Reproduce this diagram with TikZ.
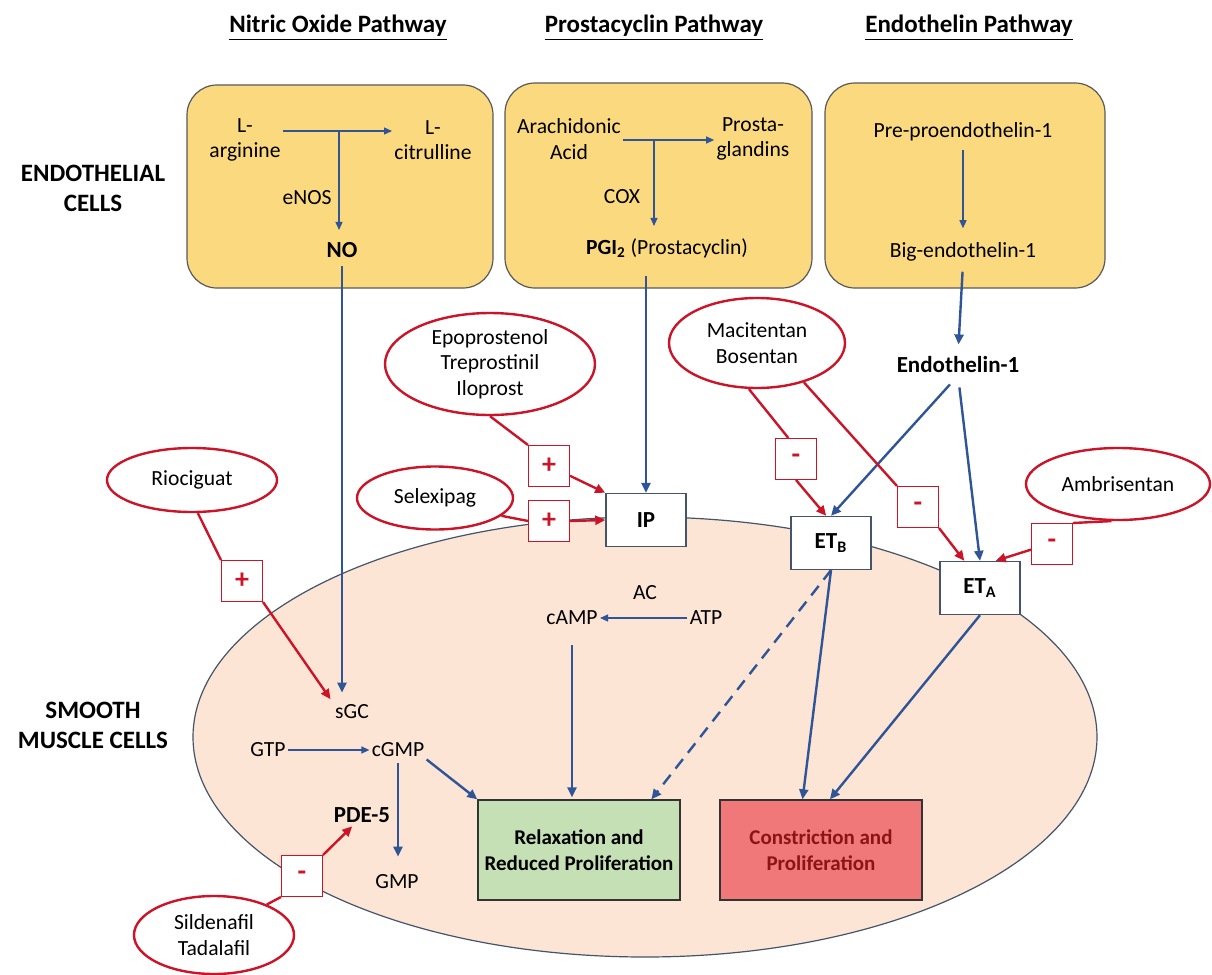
\documentclass[tikz,border=0pt]{standalone}
\usepackage{fontspec}
\setmainfont{Carlito}
\usetikzlibrary{shapes.geometric,arrows.meta}
\definecolor{cellyellow}{RGB}{250,217,127}
\definecolor{muscle}{RGB}{252,229,213}
\definecolor{pathblue}{RGB}{47,85,151}
\definecolor{drugred}{RGB}{204,20,40}
\definecolor{relaxgreen}{RGB}{197,224,180}
\definecolor{constrred}{RGB}{240,120,120}
\definecolor{constrtext}{RGB}{140,20,20}
\definecolor{membrane}{RGB}{68,84,106}
\begin{document}
\begin{tikzpicture}[x=0.5pt,y=-0.5pt,
  every node/.style={font=\fontsize{10.8}{12.8}\selectfont,inner sep=1pt,align=center},
  cellbox/.style={draw=black!65,fill=cellyellow,rounded corners=15pt,line width=0.6pt},
  drug/.style={ellipse,draw=drugred,line width=1.2pt,fill=white,inner sep=0pt},
  sign/.style={draw=drugred,line width=0.5pt,fill=white,minimum size=20.5pt,inner sep=0pt,text=drugred,font=\fontsize{14}{14}\selectfont\bfseries},
  receptor/.style={draw=membrane,fill=white,line width=0.7pt,minimum width=40pt,minimum height=26.5pt,font=\fontsize{11.5}{13}\selectfont\bfseries},
  outcome/.style={draw=black!80,line width=0.7pt,minimum width=101pt,minimum height=50pt,font=\fontsize{10.5}{13}\selectfont\bfseries},
  thinarr/.style={-{Triangle[length=4pt,width=3.5pt]},pathblue,line width=0.6pt},
  thickarr/.style={-{Triangle[length=5pt,width=4.5pt]},pathblue,line width=1.2pt},
  redline/.style={drugred,line width=1.2pt},
  redarr/.style={redline,-{Triangle[length=5pt,width=4.5pt]}},
  heading/.style={font=\fontsize{12.5}{15}\selectfont\bfseries},
  bold/.style={font=\fontsize{11.5}{13}\selectfont\bfseries}]
\fill[white] (0,0) rectangle (1212,975);
\useasboundingbox (0,0) rectangle (1212,975);

\node[heading] (hno) at (338,28) {\underline{Nitric Oxide Pathway}};
\node[heading] (hpc) at (654,28) {\underline{Prostacyclin Pathway}};
\node[heading] (het) at (969,28) {\underline{Endothelin Pathway}};
\node[heading] (lendo) at (93,188) {ENDOTHELIAL\\CELLS};
\node[heading] (lsmc) at (93,725) {SMOOTH\\MUSCLE CELLS};

\draw[cellbox] (187,85) rectangle (493,288);
\draw[cellbox] (505,83) rectangle (812,288);
\draw[cellbox] (825,83) rectangle (1105,288);
\draw[membrane,fill=muscle,line width=0.6pt] (645,737) ellipse [x radius=226pt,y radius=110pt];

\node (arg) at (245,140) {L-\\arginine};
\node (cit) at (433,140) {L-\\citrulline};
\node (enos) at (307,198) {eNOS};
\node[bold] (no) at (342,250) {NO};
\node (arach) at (569,139) {Arachidonic\\Acid};
\node (prosta) at (753,139) {Prosta-\\glandins};
\node (cox) at (622,197) {COX};
\node (pgi) at (667,248) {\textbf{PGI\textsubscript{2}} (Prostacyclin)};
\node (preet) at (963,132) {Pre-proendothelin-1};
\node (biget) at (963,252) {Big-endothelin-1};
\node[bold] (et1) at (958,365) {Endothelin-1};

\node[receptor] (ip) at (646,520) {IP};
\node[receptor] (etb) at (831,543) {ET\textsubscript{B}};
\node[receptor] (eta) at (980,588) {ET\textsubscript{A}};

\node (ac) at (645,593) {AC};
\node (camp) at (572,618) {cAMP};
\node (atp) at (706,618) {ATP};
\node (sgc) at (352,712) {sGC};
\node (gtp) at (268,750) {GTP};
\node (cgmp) at (398,750) {cGMP};
\node[bold] (pde) at (362,815) {PDE-5};
\node (gmp) at (397,882) {GMP};

\node[outcome,fill=relaxgreen] (relax) at (579,850) {Relaxation and\\Reduced Proliferation};
\node[outcome,fill=constrred,text=constrtext] (constr) at (821,850) {Constriction and\\Proliferation};

\node[drug,minimum width=105pt,minimum height=51pt] (epo) at (490,364) {Epoprostenol\\Treprostinil\\Iloprost};
\node[drug,minimum width=78pt,minimum height=31.5pt] (selex) at (435,498) {Selexipag};
\node[drug,minimum width=85pt,minimum height=32pt] (rioc) at (192,480) {Riociguat};
\node[drug,minimum width=88pt,minimum height=45pt] (maci) at (757,343) {Macitentan\\Bosentan};
\node[drug,minimum width=92pt,minimum height=36pt] (ambr) at (1118,484) {Ambrisentan};
\node[drug,minimum width=80pt,minimum height=39pt] (silde) at (214,935) {Sildenafil\\Tadalafil};

\node[sign] (pep) at (549,466) {+};
\node[sign] (psel) at (549,521) {+};
\node[sign] (prio) at (242,581) {+};
\node[sign] (mmac1) at (796,459) {-};
\node[sign] (mmac2) at (918,507) {-};
\node[sign] (mamb) at (1052,544) {-};
\node[sign] (msil) at (302,876) {-};

\coordinate (noj) at (339,131);
\coordinate (pgj) at (654,140);
\draw[thinarr] (arg.east |- noj) -- (cit.west |- noj);
\draw[thinarr,shorten >=5pt] (noj) -- (noj |- no.north);
\draw[thinarr] (arach.east |- pgj) -- (prosta.west |- pgj);
\draw[thinarr,shorten >=5pt] (pgj) -- (pgj |- pgi.north);
\draw[thinarr,shorten <=3pt,shorten >=6pt] (preet.south) -- (biget.north);

\draw[thickarr,shorten <=3pt,shorten >=5pt] (no.south) -- (no.south |- sgc.north);
\draw[thickarr,shorten <=8pt] (pgi.south -| ip.north) -- (ip.north);
\draw[thickarr,shorten <=4pt,shorten >=5pt] (biget.south) -- (et1.north);
\draw[thickarr,shorten <=6pt] (et1.south) -- (etb.north);
\draw[thickarr,shorten <=6pt] (et1.south) -- (eta.north);
\draw[thinarr] (atp) -- (camp);
\draw[thickarr,shorten <=9pt,shorten >=1pt] (camp.south) -- (camp.south |- relax.north);
\draw[thinarr] (gtp) -- (cgmp);
\draw[thickarr,shorten <=2pt,shorten >=8pt] (cgmp.south) -- (cgmp.south |- gmp.north);
\draw[thickarr] (cgmp.south east) -- (relax.north west);
\draw[thickarr,dashed,dash pattern=on 6pt off 4pt] (etb.south) -- (relax.35);
\draw[thickarr] (etb.south) -- (constr.110);
\draw[thickarr] (eta.south) -- (constr.80);

\draw[redline] (epo.south) -- (pep.north west);
\draw[redarr] (pep.-25) -- (ip.north west);
\draw[redline] (selex.-15) -- (psel.west);
\draw[redarr] (psel.east) -- (ip.west);
\draw[redline] (rioc.-80) -- (prio.north west);
\draw[redarr,shorten >=2pt] (prio.south east) -- (sgc.north west);
\draw[redline] (maci.-100) -- (mmac1.110);
\draw[redarr] (mmac1.south) -- (etb.100);
\draw[redline] (maci.-40) -- (mmac2.north west);
\draw[redarr] (mmac2.south east) -- (eta.120);
\draw[redline] (ambr.-100) -- (mamb.north east);
\draw[redarr] (mamb.195) -- (eta.60);
\draw[redline] (silde.30) -- (msil.south west);
\draw[redarr,shorten >=1pt] (msil.north east) -- (pde.-130);
\end{tikzpicture}
\end{document}
